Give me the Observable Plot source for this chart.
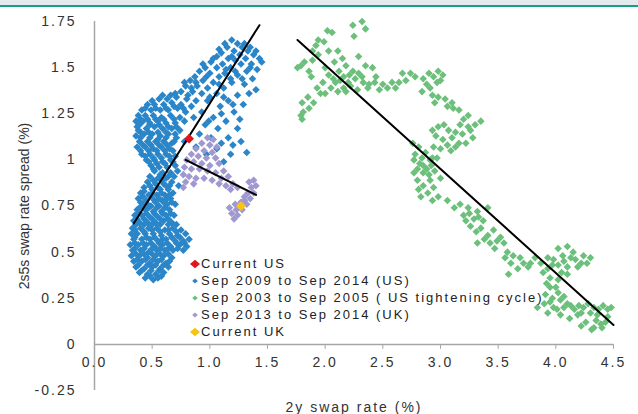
<!DOCTYPE html>
<html><head><meta charset="utf-8">
<script src="https://cdn.jsdelivr.net/npm/d3@7"></script>
<script src="https://cdn.jsdelivr.net/npm/@observablehq/plot@0.6"></script>
<style>
body{margin:0;background:#fff;}
#wrap{position:relative;width:638px;height:414px;overflow:hidden;font-family:"Liberation Sans",Arial,sans-serif;}
#band{position:absolute;left:0;top:0;width:638px;height:5px;background:#e4e9ee;border-bottom:2px solid #14a085;z-index:2;}
#legend{position:absolute;left:189px;top:255px;font-size:13px;letter-spacing:2px;color:#222;z-index:2;}
.row{height:17px;display:flex;align-items:center;white-space:nowrap;}
.row svg{width:12px;height:12px;flex:none;}
</style></head>
<body>
<div id="wrap"><div id="band"></div><div id="chart"></div><div id="legend"></div></div>
<script>
// ---- data ----
const xTicks = [0, 0.5, 1, 1.5, 2, 2.5, 3, 3.5, 4, 4.5];
const yTicks = [-0.25, 0, 0.25, 0.5, 0.75, 1, 1.25, 1.5, 1.75];
const xLabel = "2y swap rate (%)";
const yLabel = "2s5s swap rate spread (%)";
const seriesNames = ["Current US", "Sep 2009 to Sep 2014 (US)", "Sep 2003 to Sep 2005 ( US tightening cycle)", "Sep 2013 to Sep 2014 (UK)", "Current UK"];
const seriesColors = ["#e3141b", "#2a86c8", "#6cc07c", "#a098d0", "#f7c412"];

const currentUS = [[0.82, 1.115]];
const currentUK = [[1.27, 0.75]];

const us0914 = [
[1.19,1.65],[1.24,1.63],[1.28,1.61],[1.15,1.61],[1.21,1.59],[1.33,1.59],[1.10,1.58],[1.26,1.57],[1.38,1.57],[1.43,1.55],[1.06,1.56],[1.16,1.55],[1.31,1.55],[1.22,1.54],
[1.01,1.53],[1.11,1.52],[1.27,1.52],[1.36,1.52],[0.96,1.50],[1.06,1.50],[1.18,1.50],[1.41,1.49],[1.32,1.48],[0.91,1.48],[1.00,1.47],[1.13,1.47],[1.24,1.46],[0.87,1.45],[1.08,1.45],[1.37,1.44],
[0.83,1.43],[0.94,1.43],[1.03,1.42],[1.19,1.42],[1.30,1.41],[0.79,1.40],[0.89,1.40],[0.98,1.39],[1.12,1.39],[1.40,1.38],[0.75,1.37],[0.85,1.37],[0.93,1.36],[1.06,1.36],[1.24,1.35],[1.34,1.36],
[0.56,1.33],[0.63,1.33],[0.71,1.34],[0.80,1.33],[0.88,1.32],[0.98,1.32],[1.16,1.32],[0.46,1.30],[0.52,1.30],[0.60,1.30],[0.67,1.31],[0.75,1.30],[0.84,1.29],[1.09,1.29],[1.29,1.30],[0.41,1.27],[0.49,1.27],[0.57,1.27],[0.64,1.27],[0.72,1.28],[0.79,1.26],[0.93,1.26],[1.21,1.26],
[0.38,1.24],[0.44,1.24],[0.51,1.24],[0.58,1.23],[0.66,1.24],[0.74,1.23],[0.86,1.23],[1.03,1.23],[0.36,1.21],[0.42,1.21],[0.48,1.20],[0.55,1.21],[0.62,1.20],[0.70,1.20],[0.78,1.21],[1.14,1.21],[0.96,1.19],[0.37,1.18],[0.45,1.17],[0.52,1.18],[0.59,1.17],[0.67,1.17],[0.74,1.16],[1.07,1.17],[1.24,1.17],[0.40,1.15],
[0.36,1.13],[0.43,1.14],[0.50,1.14],[0.57,1.13],[0.64,1.14],[0.71,1.12],[0.91,1.14],[1.01,1.12],[1.16,1.12],[0.39,1.10],[0.46,1.10],[0.53,1.10],[0.60,1.10],[0.67,1.09],[0.78,1.10],[1.27,1.10],[0.37,1.07],[0.44,1.07],[0.51,1.06],[0.58,1.07],[0.65,1.06],[0.88,1.07],[1.06,1.06],[1.32,1.04],
[0.41,1.03],[0.48,1.03],[0.55,1.03],[0.62,1.03],[0.70,1.02],[0.97,1.03],[1.18,1.03],[0.45,1.00],[0.52,1.00],[0.59,0.99],[0.66,1.00],[1.12,0.99],[0.49,0.97],[0.56,0.96],[0.63,0.96],[0.70,0.97],
[0.52,0.94],[0.59,0.93],[0.66,0.93],[0.72,0.94],[0.48,0.91],[0.55,0.90],[0.62,0.90],[0.69,0.91],[0.46,0.88],[0.53,0.87],[0.60,0.87],[0.67,0.88],[0.73,0.86],
[0.43,0.85],[0.50,0.84],[0.57,0.84],[0.64,0.84],[0.40,0.82],[0.47,0.81],[0.54,0.81],[0.61,0.81],[0.68,0.82],[0.38,0.79],[0.45,0.78],[0.52,0.78],[0.59,0.78],[0.66,0.79],[0.42,0.76],[0.49,0.75],[0.56,0.75],[0.63,0.76],[0.70,0.76],
[0.37,0.73],[0.44,0.73],[0.51,0.72],[0.58,0.72],[0.65,0.73],[0.35,0.70],[0.41,0.70],[0.48,0.69],[0.55,0.69],[0.62,0.70],[0.69,0.70],[0.34,0.67],[0.39,0.66],[0.46,0.66],[0.53,0.66],[0.60,0.67],[0.67,0.66],
[0.33,0.63],[0.40,0.63],[0.47,0.63],[0.54,0.63],[0.61,0.62],[0.68,0.63],[0.75,0.62],[0.32,0.60],[0.37,0.60],[0.44,0.60],[0.51,0.60],[0.58,0.59],[0.65,0.60],[0.72,0.59],[0.79,0.60],[0.34,0.57],[0.41,0.57],[0.48,0.57],[0.55,0.56],[0.62,0.57],[0.70,0.56],[0.77,0.56],[0.82,0.57],
[0.31,0.54],[0.38,0.54],[0.45,0.54],[0.52,0.53],[0.59,0.54],[0.66,0.53],[0.74,0.54],[0.80,0.53],[0.33,0.51],[0.40,0.51],[0.47,0.50],[0.54,0.51],[0.61,0.51],[0.68,0.51],[0.77,0.51],[0.32,0.48],[0.39,0.48],[0.46,0.47],[0.53,0.48],[0.60,0.48],[0.67,0.47],
[0.34,0.45],[0.41,0.45],[0.48,0.44],[0.55,0.45],[0.62,0.44],[0.36,0.42],[0.43,0.41],[0.50,0.42],[0.57,0.41],[0.64,0.42],[0.39,0.39],[0.46,0.38],[0.53,0.38],[0.60,0.39],[0.44,0.36],[0.51,0.35],[0.58,0.37],
[1.13,1.63],[1.30,1.63],[1.35,1.61],[1.08,1.60],[1.40,1.59],[1.19,1.56],[1.03,1.55],[1.45,1.53],[0.94,1.52],[1.14,1.49],[1.22,1.48],[1.35,1.50],[0.97,1.45],[1.18,1.44],[1.28,1.44],[0.78,1.42],[0.88,1.42],[1.08,1.41],[0.84,1.39],[0.70,1.36],[0.81,1.35],[1.00,1.34],[1.12,1.34],[0.59,1.35],[0.66,1.35],
[0.50,1.32],[0.44,1.28],[0.53,1.28],[0.62,1.28],[0.69,1.29],[0.77,1.28],[0.40,1.22],[0.46,1.22],[0.53,1.22],[0.60,1.22],[0.69,1.22],[0.39,1.19],[0.48,1.19],[0.56,1.19],[0.64,1.18],[0.71,1.18],[0.38,1.16],[0.47,1.15],[0.55,1.15],[0.62,1.15],[0.70,1.14],[0.40,1.12],[0.48,1.12],[0.55,1.11],[0.62,1.12],[0.69,1.10],[0.42,1.08],[0.49,1.08],[0.56,1.08],[0.63,1.08],[0.40,1.05],[0.47,1.05],[0.54,1.05],[0.61,1.05],[0.68,1.05],[0.44,1.02],[0.51,1.01],[0.58,1.01],[0.65,1.02],[0.47,0.99],[0.54,0.98],[0.61,0.98],[0.68,0.99],
[0.51,0.95],[0.57,0.92],[0.64,0.91],[0.51,0.89],[0.58,0.89],[0.65,0.86],[0.48,0.86],[0.55,0.85],[0.62,0.86],[0.43,0.83],[0.50,0.82],[0.58,0.82],[0.65,0.81],[0.42,0.80],[0.49,0.80],[0.56,0.79],[0.63,0.79],[0.40,0.77],[0.46,0.76],[0.53,0.77],[0.60,0.77],[0.67,0.77],[0.39,0.74],[0.47,0.74],[0.54,0.74],[0.61,0.74],[0.38,0.71],[0.45,0.71],[0.52,0.71],[0.59,0.71],[0.66,0.71],[0.37,0.68],[0.43,0.68],[0.50,0.68],[0.57,0.68],[0.64,0.68],[0.36,0.65],[0.43,0.65],[0.50,0.65],[0.57,0.65],[0.64,0.65],[0.71,0.65],[0.35,0.62],[0.43,0.61],[0.50,0.62],[0.57,0.61],[0.64,0.62],[0.71,0.61],[0.35,0.58],[0.45,0.58],[0.52,0.58],[0.59,0.57],[0.67,0.58],[0.74,0.58],[0.35,0.55],[0.42,0.55],[0.49,0.55],[0.56,0.55],[0.63,0.55],[0.71,0.55],[0.78,0.55],[0.35,0.52],[0.43,0.52],[0.50,0.52],[0.57,0.52],[0.64,0.52],[0.72,0.52],[0.36,0.49],[0.43,0.49],[0.50,0.49],[0.57,0.49],[0.64,0.49],[0.37,0.46],[0.44,0.46],[0.51,0.46],[0.58,0.46],[0.65,0.45],[0.38,0.43],[0.46,0.43],[0.53,0.43],[0.60,0.43],[0.41,0.40],[0.49,0.40],[0.56,0.40],[0.48,0.37],[0.55,0.36],
[1.20,1.30],[1.26,1.22],[1.10,1.25],[0.99,1.21],[1.10,1.09],[1.20,1.08]
];

const us0305 = [
[2.32,1.75],[2.24,1.73],[2.35,1.71],[2.02,1.70],[2.06,1.69],[2.25,1.67],[1.94,1.65],[1.99,1.64],[1.92,1.62],[1.89,1.59],[2.03,1.59],[2.11,1.59],[1.94,1.57],[2.29,1.56],[1.89,1.54],[1.79,1.51],[1.76,1.50],[1.86,1.48],[2.18,1.51],[2.35,1.51],[2.41,1.50],[2.12,1.48],[2.24,1.48],[2.67,1.47],[2.74,1.47],[2.98,1.48],[3.02,1.46],[2.94,1.45],[2.03,1.46],[2.16,1.45],[2.32,1.45],[2.44,1.45],[2.85,1.44],[1.98,1.42],[2.09,1.42],[2.20,1.42],[2.38,1.41],[2.50,1.41],[2.64,1.42],[2.70,1.43],[2.97,1.42],[1.93,1.39],[2.05,1.39],[2.16,1.39],[2.37,1.39],[2.54,1.39],[2.61,1.39],[2.91,1.39],[2.00,1.36],[2.18,1.37],[2.84,1.37],[2.93,1.35],[1.85,1.34],[2.98,1.34],[3.04,1.33],[3.10,1.31],[1.80,1.31],[1.90,1.31],[3.11,1.28],[1.86,1.28],[1.81,1.26],[1.79,1.24],[1.80,1.22],
[2.07,1.44],[2.13,1.43],[2.26,1.44],[2.22,1.40],[2.11,1.37],[2.28,1.38],[1.96,1.36],
[3.16,1.27],[3.24,1.24],[3.35,1.21],[3.17,1.19],[3.24,1.18],[2.98,1.18],[2.93,1.16],[3.07,1.16],[3.13,1.15],[3.26,1.16],[2.96,1.13],[3.02,1.11],[3.10,1.12],[3.06,1.08],[3.16,1.09],[3.22,1.09],[3.13,1.07],[2.76,1.09],[2.81,1.07],[2.87,1.04],[2.78,1.03],[2.77,1.00],[2.84,1.01],[2.93,1.01],[2.94,1.07],[2.91,1.00],[2.97,1.01],[2.85,0.97],[2.77,0.93],[2.85,0.93],[2.80,0.89],[2.91,0.89],[3.00,0.90],[2.85,0.86],[2.94,0.85],[2.89,0.82],[2.98,0.80],
[2.82,0.98],[2.88,0.95],[2.95,0.94],[2.81,0.84],[2.90,0.92],
[3.17,0.76],[3.24,0.74],[3.32,0.72],[3.41,0.74],[3.20,0.70],[3.29,0.68],[3.37,0.67],[3.26,0.64],[3.35,0.63],[3.46,0.62],[3.41,0.59],[3.52,0.58],[3.32,0.55],[3.43,0.55],[3.55,0.55],[3.58,0.50],[3.63,0.48],[3.69,0.47],[3.78,0.44],[3.61,0.44],[3.67,0.41],[3.59,0.38],[3.76,0.42],[3.87,0.44],[3.93,0.47],[4.02,0.52],[4.10,0.53],[4.15,0.50],[4.24,0.48],[4.30,0.47],[4.06,0.48],[4.13,0.47],[4.22,0.44],[3.98,0.46],[3.93,0.41],[4.02,0.43],[4.10,0.42],[4.19,0.42],[3.95,0.36],[4.02,0.35],[4.10,0.38],[3.95,0.31],[4.02,0.28],[3.97,0.25],[4.04,0.24],[3.90,0.22],[3.84,0.20],[3.98,0.20],[4.07,0.20],[4.16,0.19],[4.24,0.20],[4.33,0.20],[4.41,0.21],[4.48,0.20],[3.93,0.17],[4.04,0.16],[4.22,0.17],[4.36,0.16],[4.45,0.15],[4.39,0.11],[4.22,0.10],[4.33,0.09],[4.31,0.08],[4.40,0.09],
[4.10,0.22],[4.28,0.22],[4.19,0.16],[4.12,0.14],
[1.82,1.53],[1.88,1.45],[2.00,1.50],[2.08,1.53],[2.15,1.55],[2.21,1.46],[2.29,1.47],[2.33,1.42],[2.43,1.42],[2.47,1.38],[2.58,1.42],[2.78,1.45],[2.90,1.47],[3.00,1.43],[2.88,1.41],[2.95,1.31],[3.06,1.29],[3.20,1.22],[3.30,1.19],[3.03,1.19],[3.19,1.14],[3.28,1.12],[3.00,1.06],[3.09,1.05],[2.80,0.95],[2.92,0.97],[2.83,0.80],[2.93,0.78],[3.06,0.78],[3.12,0.74],[3.25,0.71],[3.33,0.69],[3.22,0.67],[3.31,0.61],[3.38,0.57],[3.49,0.56],[3.47,0.52],[3.56,0.47],[3.72,0.44],[3.82,0.47],[3.89,0.39],[3.97,0.43],[4.07,0.45],[4.17,0.46],[4.27,0.44],[4.05,0.39],[3.92,0.33],[4.00,0.31],[3.91,0.27],[4.07,0.26],[3.95,0.23],[4.13,0.21],[4.20,0.21],[4.37,0.19],[4.45,0.19],[4.30,0.17],[4.01,0.19],[4.26,0.12],[4.35,0.13],[4.43,0.12]
];

const uk1314 = [
[0.98,1.12],[1.03,1.11],[0.93,1.09],[1.00,1.08],[1.06,1.07],[0.88,1.06],[0.95,1.05],[1.02,1.04],[0.84,1.03],[0.90,1.02],[0.97,1.01],[1.05,1.01],[0.80,1.00],[0.86,0.99],[0.93,0.98],[1.00,0.97],[1.08,0.98],[0.78,0.96],[0.84,0.95],[0.91,0.95],[0.98,0.94],[1.05,0.93],[1.12,0.94],[0.77,0.92],[0.82,0.91],[0.88,0.90],[0.95,0.90],[1.02,0.89],[1.10,0.90],[1.16,0.91],[0.79,0.88],[0.86,0.87],[1.08,0.87],[1.14,0.86],[1.20,0.87],[0.77,0.85],[1.18,0.84],[1.24,0.85],[1.34,0.88],[1.38,0.89],[1.36,0.85],[1.40,0.86],[1.33,0.82],[1.38,0.82],[1.30,0.80],[1.35,0.79],[1.27,0.77],[1.32,0.76],[1.22,0.76],[1.17,0.74],[1.23,0.73],[1.28,0.73],[1.19,0.71],[1.24,0.70],[1.21,0.68],[1.30,0.78]
];

const usTrend = [[0.34, 0.655], [1.43, 1.73]];
const ukTrend = [[0.79, 1.00], [1.40, 0.81]];
const cycleTrend = [[1.76, 1.65], [4.50, 0.105]];

// ---- chart ----
const W = 638, H = 414, mt = 21, mb = 24, ml = 94, mr = 25;
const xDomain = [0, 4.5], yDomain = [-0.25, 1.75];
const zeroOffset = (H - mt - mb) * (0 - yDomain[0]) / (yDomain[1] - yDomain[0]);
const axisGray = "#a6a6a6";
const px = d => d[0], py = d => d[1];

const chart = Plot.plot({
  width: W, height: H,
  marginTop: mt, marginBottom: mb, marginLeft: ml, marginRight: mr,
  x: {domain: xDomain},
  y: {domain: yDomain},
  style: {fontFamily: "'Liberation Sans', Arial, sans-serif", color: "#333", background: "transparent"},
  marks: [
    Plot.ruleX([0], {stroke: axisGray, strokeWidth: 1.5}),
    Plot.ruleY([0], {stroke: axisGray, strokeWidth: 1.5}),
    Plot.axisY({ticks: yTicks, tickSize: 0, tickPadding: 18, tickFormat: d => String(d), label: null, fontSize: 14, fill: "#333"}),
    Plot.axisX({ticks: xTicks, tickSize: 5, tickPadding: 8, tickFormat: d => d.toFixed(1), label: null, dy: -zeroOffset, fontSize: 14, stroke: axisGray, fill: "#333"}),
    Plot.text([xLabel], {frameAnchor: "bottom", dy: 21, fontSize: 14, fill: "#333"}),
    Plot.text([yLabel], {frameAnchor: "left", textAnchor: "middle", dx: -70, rotate: -90, fontSize: 14, fill: "#333"}),
    Plot.dot(us0914, {x: px, y: py, symbol: "diamond2", r: 3.4, fill: seriesColors[1], stroke: "none"}),
    Plot.dot(us0305, {x: px, y: py, symbol: "diamond2", r: 3.4, fill: seriesColors[2], stroke: "none"}),
    Plot.dot(uk1314, {x: px, y: py, symbol: "diamond2", r: 3.4, fill: seriesColors[3], stroke: "none"}),
    Plot.line(usTrend, {x: px, y: py, stroke: "#000", strokeWidth: 2}),
    Plot.line(ukTrend, {x: px, y: py, stroke: "#000", strokeWidth: 2}),
    Plot.line(cycleTrend, {x: px, y: py, stroke: "#000", strokeWidth: 2}),
    Plot.dot(currentUS, {x: px, y: py, symbol: "diamond2", r: 4.4, fill: seriesColors[0], stroke: "none"}),
    Plot.dot(currentUK, {x: px, y: py, symbol: "diamond2", r: 4.4, fill: seriesColors[4], stroke: "none"})
  ]
});
// horizontal texts are stretched wider in the reference: add letter spacing to them, not to the rotated label
d3.select(chart).selectAll("text").each(function() {
  if (this.textContent !== yLabel) this.style.letterSpacing = "2px";
});
document.getElementById("chart").appendChild(chart);

// ---- legend ----
const legend = d3.select("#legend");
seriesNames.forEach((name, i) => {
  const big = (i === 0 || i === 4);
  const s = big ? 5 : 2.8;
  const row = legend.append("div").attr("class", "row");
  row.append("svg").attr("viewBox", "-6 -6 12 12")
    .append("path").attr("d", `M0,${-s*0.85}L${s},0L0,${s*0.85}L${-s},0Z`).attr("fill", seriesColors[i]);
  row.append("span").text(name);
});
</script>
</body></html>
